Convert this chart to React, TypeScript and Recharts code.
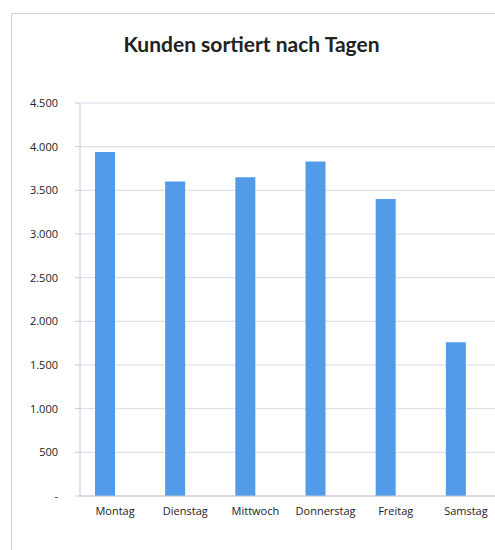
import React from "react";
import { BarChart, Bar, XAxis, YAxis, CartesianGrid } from "recharts";

const days = ["Montag", "Dienstag", "Mittwoch", "Donnerstag", "Freitag", "Samstag"];
const kunden = [3940, 3600, 3650, 3830, 3400, 1760];
// empty second series of the original Excel chart (keeps bars left of the band centre)
const leer: (number | null)[] = [null, null, null, null, null, null];
const yTicks = [0, 500, 1000, 1500, 2000, 2500, 3000, 3500, 4000, 4500];
const title = "Kunden sortiert nach Tagen";

const data = days.map((d, i) => ({ tag: d, kunden: kunden[i], leer: leer[i] }));

const fmt = (v: number) =>
  v === 0 ? "-" : String(v).replace(/\B(?=(\d{3})+(?!\d))/g, ".");

const FONT = "'Open Sans', 'Noto Sans', sans-serif";

export default function App() {
  return (
    <div
      style={{
        position: "absolute",
        left: 0,
        top: 0,
        width: 495,
        height: 550,
        overflow: "hidden",
        background: "#fff",
        fontFamily: FONT,
      }}
    >
      <div
        style={{
          position: "absolute",
          left: 11,
          top: 13,
          width: 600,
          height: 600,
          border: "1px solid #cfcfd9",
        }}
      />
      <div
        style={{
          position: "absolute",
          left: 0,
          top: 30,
          width: 503,
          textAlign: "center",
          fontFamily: "Lato, 'Open Sans', sans-serif",
          fontWeight: 700,
          fontSize: 21,
          color: "#222",
          lineHeight: "28px",
        }}
      >
        {title}
      </div>
      <div style={{ position: "absolute", left: 0, top: 0 }}>
        <BarChart
          width={521}
          height={550}
          data={data}
          margin={{ top: 103, right: 20, bottom: 24, left: 0 }}
          barGap={0}
          barCategoryGap="21%"
        >
          <CartesianGrid vertical={false} stroke="#dcd8e8" />
          <XAxis
            dataKey="tag"
            height={30}
            axisLine={{ stroke: "#cbc6da" }}
            tickLine={false}
            tickMargin={5}
            tick={{ fill: "#222", fontSize: 11, fontFamily: FONT }}
            interval={0}
          />
          <YAxis
            width={80}
            domain={[0, 4500]}
            ticks={yTicks}
            tickFormatter={fmt}
            axisLine={{ stroke: "#cbc6da" }}
            tickLine={{ stroke: "#cbc6da" }}
            tickSize={5}
            tickMargin={17}
            tick={{ fill: "#222", fontSize: 11, fontFamily: FONT }}
            interval={0}
          />
          <Bar dataKey="kunden" fill="#539be9" barSize={20} isAnimationActive={false} />
          <Bar dataKey="leer" fill="#e8873a" barSize={20} isAnimationActive={false} />
        </BarChart>
      </div>
    </div>
  );
}
